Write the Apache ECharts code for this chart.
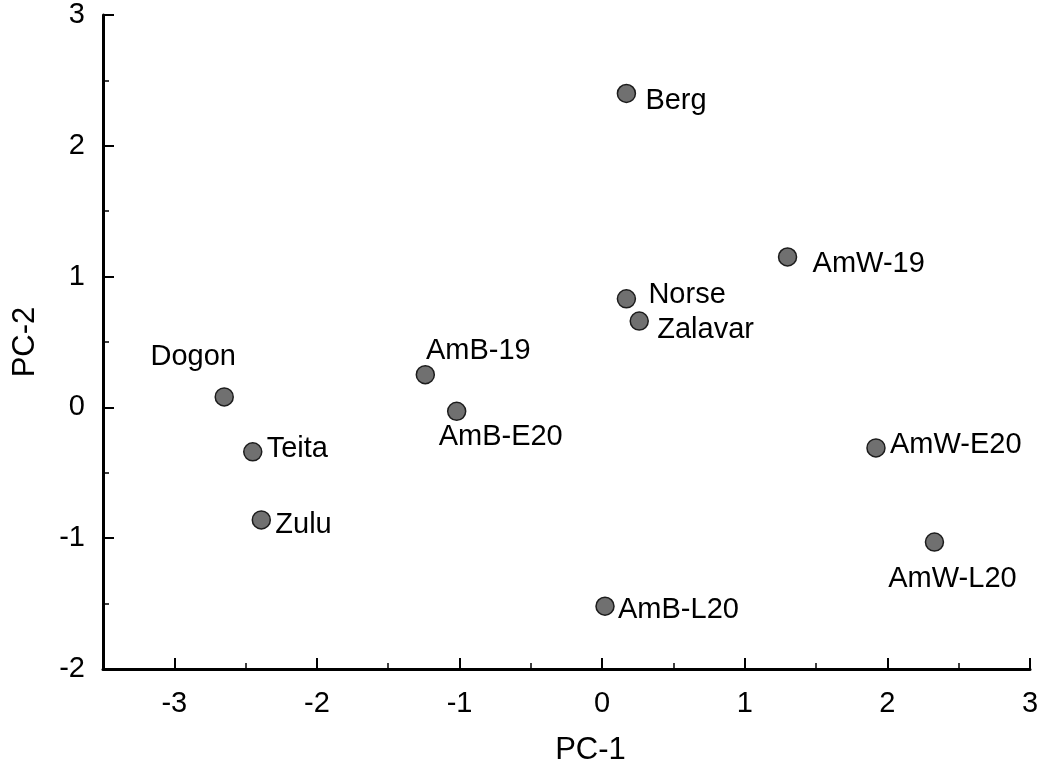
<!DOCTYPE html>
<html>
<head>
<meta charset="utf-8">
<script src="https://cdn.jsdelivr.net/npm/echarts@6/dist/echarts.min.js"></script>
<style>
  html, body { margin: 0; padding: 0; background: #fff; }
  #pca_scatter { width: 1040px; height: 763px; }
</style>
</head>
<body>
<div id="pca_scatter"></div>
<script>
// sample names and scores
const groupNames = ["Berg", "AmW-19", "Norse", "Zalavar", "AmB-19", "AmB-E20",
  "Dogon", "Teita", "Zulu", "AmW-E20", "AmW-L20", "AmB-L20"];
const pc1 = [0.17, 1.30, 0.17, 0.26, -1.24, -1.02, -2.65, -2.45, -2.39, 1.92, 2.33, 0.02];
const pc2 = [2.40, 1.15, 0.83, 0.66, 0.25, -0.03, 0.08, -0.34, -0.86, -0.31, -1.03, -1.52];

const xTicks = [-3, -2, -1, 0, 1, 2, 3];
const xMinorTicks = [-2.5, -1.5, -0.5, 0.5, 1.5, 2.5];
const yTicks = [-2, -1, 0, 1, 2, 3];
const yMinorTicks = [-1.5, -0.5, 0.5, 1.5, 2.5];

// where each label sits relative to its dot (align, dx, dy in px)
const labelPlace = {
  "Berg": ["left", 19, 8],
  "AmW-19": ["left", 25, 7],
  "Norse": ["left", 22, -4],
  "Zalavar": ["left", 18, 9],
  "AmB-19": ["center", 53, -24],
  "AmB-E20": ["center", 44, 26],
  "Dogon": ["center", -31, -40],
  "Teita": ["left", 14, -3],
  "Zulu": ["left", 14, 5],
  "AmW-E20": ["left", 14, -3],
  "AmW-L20": ["center", 18, 37],
  "AmB-L20": ["left", 13, 4],
};

const FONT = "Liberation Sans";

const chart = echarts.init(document.getElementById("pca_scatter"));

const points = groupNames.map((name, i) => {
  const p = labelPlace[name];
  return {
    name: name,
    value: [pc1[i], pc2[i]],
    label: { align: p[0], offset: [p[1], p[2]] },
  };
});

// ticks point into the plot
const majorTick = (vals) => ({
  show: true, inside: true, length: 11, customValues: vals,
  lineStyle: { color: "#000", width: 2 },
});
const minorTickOnly = (vals) => ({
  show: true, inside: true, length: 6, customValues: vals,
  lineStyle: { color: "#000", width: 1.5 },
});

const option = {
  backgroundColor: "#fff",
  animation: false,
  grid: { left: 103, right: 10, top: 15, bottom: 94, containLabel: false, outerBoundsMode: "none" },
  xAxis: [
    {
      type: "value",
      min: -3.5,
      max: 3,
      name: "PC-1",
      nameLocation: "middle",
      nameGap: 66,
      nameTextStyle: { fontFamily: FONT, fontSize: 31, color: "#000", padding: [0, 0, 0, 48] },
      splitLine: { show: false },
      axisLine: { show: true, onZero: false, lineStyle: { color: "#000", width: 3 } },
      axisTick: majorTick(xTicks),
      axisLabel: { customValues: xTicks, margin: 20, fontFamily: FONT, fontSize: 29, color: "#000" },
    },
    {
      // minor ticks only
      type: "value",
      min: -3.5,
      max: 3,
      position: "bottom",
      splitLine: { show: false },
      axisLine: { show: false, onZero: false },
      axisTick: minorTickOnly(xMinorTicks),
      axisLabel: { show: false },
    },
  ],
  yAxis: [
    {
      type: "value",
      min: -2,
      max: 3,
      interval: 1,
      name: "PC-2",
      nameLocation: "middle",
      nameGap: 62,
      nameTextStyle: { fontFamily: FONT, fontSize: 31, color: "#000" },
      splitLine: { show: false },
      axisLine: { show: true, onZero: false, lineStyle: { color: "#000", width: 3 } },
      axisTick: majorTick(yTicks),
      axisLabel: { customValues: yTicks, margin: 18, fontFamily: FONT, fontSize: 29, color: "#000" },
    },
    {
      type: "value",
      min: -2,
      max: 3,
      position: "left",
      splitLine: { show: false },
      axisLine: { show: false, onZero: false },
      axisTick: minorTickOnly(yMinorTicks),
      axisLabel: { show: false },
    },
  ],
  series: [
    {
      type: "scatter",
      xAxisIndex: 0,
      yAxisIndex: 0,
      symbol: "circle",
      symbolSize: 18,
      itemStyle: { color: "#707070", borderColor: "#1c1c1c", borderWidth: 1.5, opacity: 1 },
      label: {
        show: true,
        position: "inside",
        formatter: "{b}",
        fontFamily: FONT,
        fontSize: 29,
        color: "#000",
        verticalAlign: "middle",
      },
      data: points,
    },
  ],
};

chart.setOption(option);
</script>
</body>
</html>
